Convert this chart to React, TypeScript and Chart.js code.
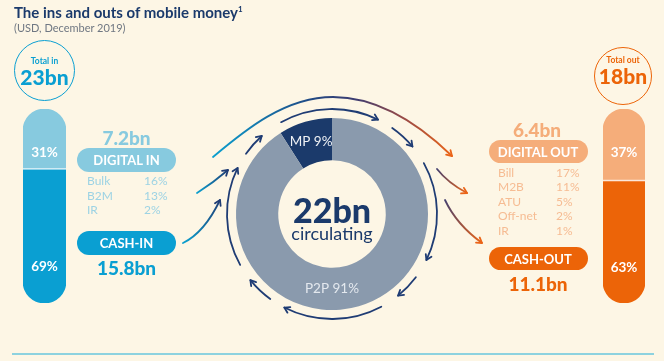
import React, { useEffect, useRef } from "react";
import { Chart, registerables } from "chart.js";
Chart.register(...registerables);

// ---- data ----
const flowLabels = ["MP", "P2P"];
const flowShares = [9, 91];
const circulating = 22;

const inLabels = ["CASH-IN", "DIGITAL IN"];
const inShares = [69, 31];
const inAmounts = [15.8, 7.2];
const totalIn = 23;

const outLabels = ["CASH-OUT", "DIGITAL OUT"];
const outShares = [63, 37];
const outAmounts = [11.1, 6.4];
const totalOut = 18;

const digitalInLabels = ["Bulk", "B2M", "IR"];
const digitalInValues = [16, 13, 2];
const digitalOutLabels = ["Bill", "M2B", "ATU", "Off-net", "IR"];
const digitalOutValues = [17, 11, 5, 2, 1];

// ---- styles ----
const BG = "#FDF6E5";
const NAVY = "#1B3A6B";
const ARROW = "#1F3C74";
const SLATE = "#8A9AAD";
const BLUE = "#0A9FD2";
const LBLUE = "#87CADF";
const LBLUE_TXT = "#9DD3E4";
const ORANGE = "#EC6408";
const LORANGE = "#F5AD7A";
const LORANGE_TXT = "#F6BC93";
const FONT = "Lato, 'Open Sans', sans-serif";

const ringArcs: [number, number][] = [
  [151, 206],
  [215, 228],
  [241, 296],
  [305, 320],
  [331, 386],
  [37, 51],
  [62, 117],
  [126, 141],
];

function head(ctx: CanvasRenderingContext2D, x: number, y: number, dir: number, L: number) {
  ctx.beginPath();
  ctx.moveTo(x + L * Math.cos(dir + Math.PI - 0.55), y + L * Math.sin(dir + Math.PI - 0.55));
  ctx.lineTo(x, y);
  ctx.lineTo(x + L * Math.cos(dir + Math.PI + 0.55), y + L * Math.sin(dir + Math.PI + 0.55));
  ctx.stroke();
}

function quadArrow(
  ctx: CanvasRenderingContext2D,
  p0: [number, number],
  c: [number, number],
  p1: [number, number],
  c0: string,
  c1: string
) {
  const g = ctx.createLinearGradient(p0[0], p0[1], p1[0], p1[1]);
  g.addColorStop(0, c0);
  g.addColorStop(1, c1);
  ctx.strokeStyle = g;
  ctx.beginPath();
  ctx.moveTo(p0[0], p0[1]);
  ctx.quadraticCurveTo(c[0], c[1], p1[0], p1[1]);
  ctx.stroke();
  ctx.strokeStyle = c1;
  head(ctx, p1[0], p1[1], Math.atan2(p1[1] - c[1], p1[0] - c[0]), 6);
}

const decoPlugin = {
  id: "deco",
  afterDraw(chart: any) {
    const ctx: CanvasRenderingContext2D = chart.ctx;
    const meta = chart.getDatasetMeta(0);
    const a0 = meta.data[0];
    const cx = a0.x,
      cy = a0.y;
    const outer = a0.outerRadius,
      inner = a0.innerRadius;
    const R = outer + 9;
    ctx.save();
    ctx.lineWidth = 1.8;
    ctx.lineCap = "round";
    ctx.lineJoin = "round";
    ctx.strokeStyle = ARROW;
    for (const [s, e] of ringArcs) {
      const sr = (s * Math.PI) / 180,
        er = (e * Math.PI) / 180;
      ctx.beginPath();
      ctx.arc(cx, cy, R, sr, er);
      ctx.stroke();
      const tx = cx + R * Math.cos(er),
        ty = cy + R * Math.sin(er);
      head(ctx, tx, ty, Math.atan2(Math.cos(er), -Math.sin(er)), 6);
    }
    // big wave
    const g = ctx.createLinearGradient(213, 0, 452, 0);
    g.addColorStop(0, "#0BA0CF");
    g.addColorStop(0.4, "#1F4A85");
    g.addColorStop(0.6, "#3E3C70");
    g.addColorStop(0.8, "#9A4A45");
    g.addColorStop(1, "#EA6418");
    ctx.strokeStyle = g;
    ctx.beginPath();
    ctx.moveTo(213, 157);
    ctx.bezierCurveTo(245, 130, 285, 97, 333, 97);
    ctx.bezierCurveTo(380, 97, 420, 125, 452, 156);
    ctx.stroke();
    ctx.strokeStyle = "#EA6418";
    head(ctx, 452, 156, Math.atan2(156 - 125, 452 - 420), 6);
    // incoming
    quadArrow(ctx, [197, 193], [213.5, 182.5], [228, 170], "#0BA0CF", ARROW);
    quadArrow(ctx, [183, 243], [204.5, 232.5], [220, 200], "#0BA0CF", ARROW);
    // outgoing
    quadArrow(ctx, [437, 169], [448, 183], [467, 193], "#44406F", "#EA6418");
    quadArrow(ctx, [445, 200], [456.5, 224.5], [482, 243], "#44406F", "#EA6418");
    // slice labels
    ctx.font = `400 13.5px ${FONT}`;
    ctx.textAlign = "center";
    ctx.textBaseline = "middle";
    ctx.fillStyle = "#EEF1F5";
    const p = meta.data[0].tooltipPosition();
    ctx.fillText(`${flowLabels[0]} ${flowShares[0]}%`, p.x, p.y);
    ctx.fillStyle = "#E3E8EE";
    ctx.fillText(`${flowLabels[1]} ${flowShares[1]}%`, cx, cy + (outer + inner) / 2);
    ctx.restore();
  },
};

const pillDivider = {
  id: "divider",
  afterDatasetsDraw(chart: any) {
    const ctx = chart.ctx;
    const y = chart.scales.y.getPixelForValue(chart.data.datasets[0].data[0]);
    ctx.save();
    ctx.fillStyle = "#ffffff";
    ctx.globalAlpha = 0.8;
    ctx.fillRect(0, y - 1, chart.width, 1.5);
    ctx.restore();
  },
};

function pillConfig(shares: number[], dark: string, light: string, r: number): any {
  return {
    type: "bar",
    data: {
      labels: [""],
      datasets: [
        {
          data: [shares[0]],
          backgroundColor: dark,
          borderRadius: { topLeft: 0, topRight: 0, bottomLeft: r, bottomRight: r },
          borderSkipped: false,
          barPercentage: 1,
          categoryPercentage: 1,
        },
        {
          data: [shares[1]],
          backgroundColor: light,
          borderRadius: { topLeft: r, topRight: r, bottomLeft: 0, bottomRight: 0 },
          borderSkipped: false,
          barPercentage: 1,
          categoryPercentage: 1,
        },
      ],
    },
    options: {
      responsive: false,
      animation: false,
      layout: { padding: 0 },
      plugins: { legend: { display: false }, tooltip: { enabled: false } },
      scales: {
        x: { stacked: true, display: false },
        y: { stacked: true, display: false, min: 0, max: 100 },
      },
    },
    plugins: [pillDivider],
  };
}

const T = ({ x, y, s, w = 400, c, a = "center", children }: any) => (
  <div
    style={{
      position: "absolute",
      left: x,
      top: y,
      transform: a === "center" ? "translate(-50%,-50%)" : "translate(0,-50%)",
      fontSize: s,
      fontWeight: w,
      color: c,
      lineHeight: 1,
      whiteSpace: "nowrap",
      fontFamily: FONT,
    }}
  >
    {children}
  </div>
);

const Box = ({ x, y, w, h, bg }: any) => (
  <div style={{ position: "absolute", left: x, top: y, width: w, height: h, borderRadius: h / 2, background: bg }} />
);

const Ring = ({ x, y, d, c }: any) => (
  <div
    style={{
      position: "absolute",
      left: x - d / 2,
      top: y - d / 2,
      width: d,
      height: d,
      boxSizing: "border-box",
      borderRadius: "50%",
      border: `1.5px solid ${c}`,
    }}
  />
);

export default function App() {
  const donutRef = useRef<HTMLCanvasElement>(null);
  const leftRef = useRef<HTMLCanvasElement>(null);
  const rightRef = useRef<HTMLCanvasElement>(null);

  useEffect(() => {
    document.body.style.margin = "0";
    document.body.style.background = BG;
    const donut = new Chart(donutRef.current!, {
      type: "doughnut",
      data: {
        labels: flowLabels,
        datasets: [{ data: flowShares, backgroundColor: [NAVY, SLATE], borderWidth: 0 }],
      },
      options: {
        responsive: false,
        animation: false,
        rotation: -flowShares[0] * 3.6,
        cutout: "56%",
        layout: { padding: { left: 236, right: 236, top: 118, bottom: 51 } },
        plugins: { legend: { display: false }, tooltip: { enabled: false } },
      },
      plugins: [decoPlugin],
    } as any);
    const left = new Chart(leftRef.current!, pillConfig(inShares, BLUE, LBLUE, 22));
    const right = new Chart(rightRef.current!, pillConfig(outShares, ORANGE, LORANGE, 21));
    return () => {
      donut.destroy();
      left.destroy();
      right.destroy();
    };
  }, []);

  const inRowsY = [181, 196, 210];
  const outRowsY = [173, 187, 202, 216, 231];

  return (
    <div style={{ position: "fixed", left: 0, top: 0, width: 664, height: 361, background: BG, overflow: "hidden" }}>
      <canvas ref={donutRef} width={664} height={361} style={{ position: "absolute", left: 0, top: 0 }} />
      <canvas ref={leftRef} width={43} height={194} style={{ position: "absolute", left: 23, top: 109 }} />
      <canvas ref={rightRef} width={42} height={194} style={{ position: "absolute", left: 603, top: 109 }} />

      <T x={14} y={11.5} s={15} w={700} c={NAVY} a="left">
        The ins and outs of mobile money<sup style={{ fontSize: 8, verticalAlign: "6px" }}>1</sup>
      </T>
      <T x={14} y={27} s={11} c="#6F7782" a="left">
        (USD, December 2019)
      </T>

      {/* left */}
      <Ring x={44.5} y={70} d={61} c={BLUE} />
      <T x={44.5} y={61} s={8.5} w={700} c={BLUE}>Total in</T>
      <T x={44.5} y={76} s={21} w={900} c={BLUE}>{totalIn}bn</T>
      <T x={44.5} y={153} s={13.5} w={700} c="#fff">{inShares[1]}%</T>
      <T x={44.5} y={267} s={13.5} w={700} c="#fff">{inShares[0]}%</T>
      <T x={126.5} y={137} s={19} w={900} c={LBLUE}>{inAmounts[1]}bn</T>
      <Box x={77} y={148} w={99} h={24} bg={LBLUE} />
      <T x={126.5} y={160} s={13} w={700} c="#fff">{inLabels[1]}</T>
      {digitalInLabels.map((l, i) => (
        <React.Fragment key={l}>
          <T x={87} y={inRowsY[i]} s={12} c={LBLUE_TXT} a="left">{l}</T>
          <T x={144} y={inRowsY[i]} s={12} c={LBLUE_TXT} a="left">{digitalInValues[i]}%</T>
        </React.Fragment>
      ))}
      <Box x={77} y={231} w={99} h={24} bg={BLUE} />
      <T x={126.5} y={243} s={13} w={700} c="#fff">{inLabels[0]}</T>
      <T x={126.5} y={267} s={19} w={900} c={BLUE}>{inAmounts[0]}bn</T>

      {/* center */}
      <T x={332} y={210} s={34} w={900} c={NAVY}>{circulating}bn</T>
      <T x={332} y={233} s={18} c={NAVY}>circulating</T>

      {/* right */}
      <Ring x={623} y={76} d={58} c={ORANGE} />
      <T x={623} y={60} s={8.5} w={700} c={ORANGE}>Total out</T>
      <T x={623} y={75} s={21} w={900} c={ORANGE}>{totalOut}bn</T>
      <T x={624} y={153} s={13.5} w={700} c="#fff">{outShares[1]}%</T>
      <T x={624} y={268} s={13.5} w={700} c="#fff">{outShares[0]}%</T>
      <T x={537} y={129} s={19} w={900} c={LORANGE}>{outAmounts[1]}bn</T>
      <Box x={489} y={140} w={99} h={23} bg={LORANGE} />
      <T x={538} y={151.5} s={13} w={700} c="#fff">{outLabels[1]}</T>
      {digitalOutLabels.map((l, i) => (
        <React.Fragment key={l}>
          <T x={498} y={outRowsY[i]} s={12} c={LORANGE_TXT} a="left">{l}</T>
          <T x={556} y={outRowsY[i]} s={12} c={LORANGE_TXT} a="left">{digitalOutValues[i]}%</T>
        </React.Fragment>
      ))}
      <Box x={489} y={247} w={99} h={23} bg={ORANGE} />
      <T x={538} y={258.5} s={13} w={700} c="#fff">{outLabels[0]}</T>
      <T x={538} y={283} s={19} w={900} c={ORANGE}>{outAmounts[0]}bn</T>

      <div style={{ position: "absolute", left: 12, top: 353, width: 642, height: 2, background: "#8DD2DF" }} />
    </div>
  );
}
